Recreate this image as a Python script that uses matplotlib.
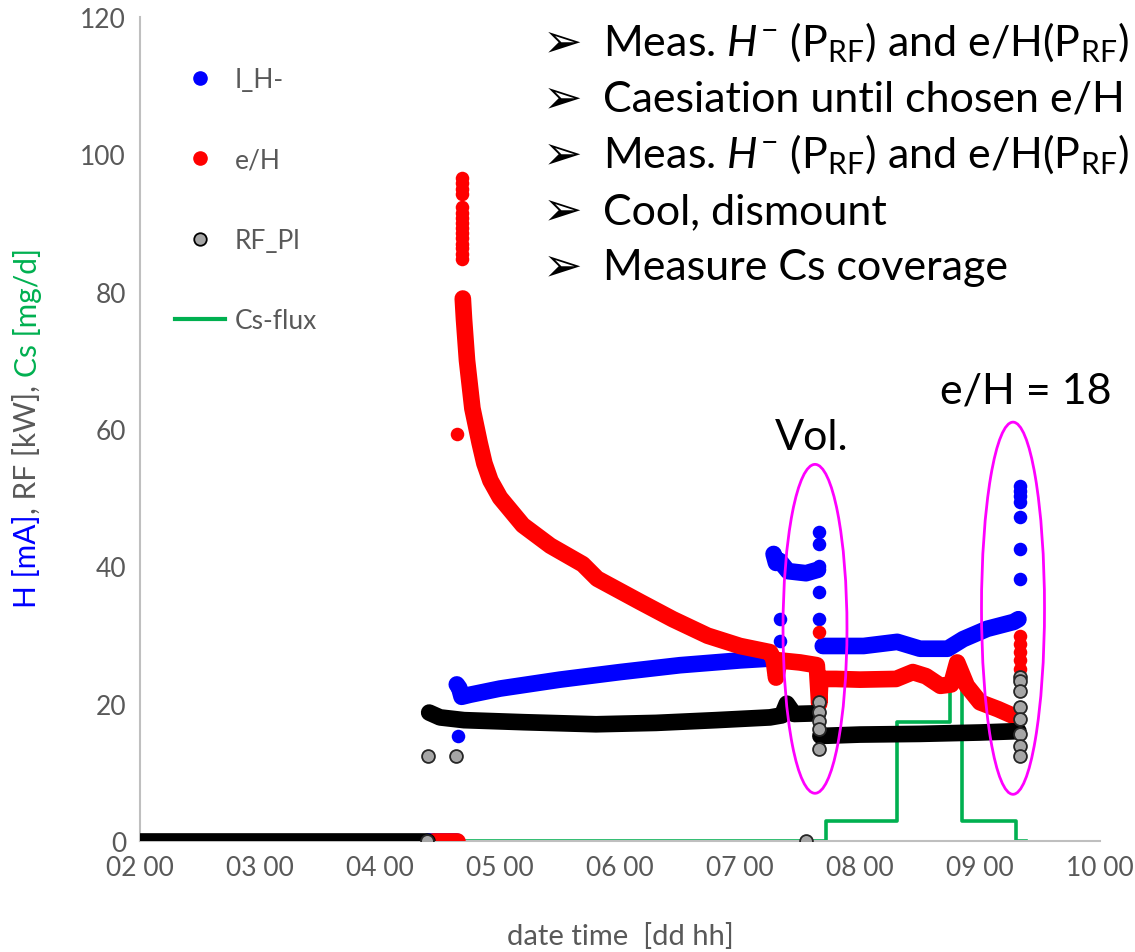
import matplotlib
matplotlib.use('Agg')
import matplotlib.pyplot as plt
from matplotlib.patches import Ellipse
from matplotlib.lines import Line2D

plt.rcParams['font.family'] = ['Lato', 'DejaVu Sans']
plt.rcParams['mathtext.fontset'] = 'custom'
plt.rcParams['mathtext.rm'] = 'Lato'
plt.rcParams['mathtext.it'] = 'Lato:italic'
plt.rcParams['mathtext.bf'] = 'Lato:bold'

# time axis in days (02 00 .. 10 00)
x_ticks = [2, 3, 4, 5, 6, 7, 8, 9, 10]
x_labels = ['02 00', '03 00', '04 00', '05 00', '06 00', '07 00', '08 00', '09 00', '10 00']
y_ticks = [0, 20, 40, 60, 80, 100, 120]

# RF_Pl (dense track + single points)
rf_zero_t = [2.0, 4.39]
rf_zero_v = [0, 0]
rf_t = [4.41, 4.50, 4.70, 5.20, 5.80, 6.30, 6.80, 7.25, 7.35, 7.39, 7.45, 7.65]
rf_v = [18.7, 18.0, 17.6, 17.3, 17.0, 17.2, 17.6, 18.0, 18.3, 20.0, 18.5, 18.6]
rf2_t = [7.67, 8.00, 8.50, 9.00, 9.32]
rf2_v = [15.3, 15.5, 15.6, 15.8, 16.0]
rf_pt_t = [4.39, 4.40, 4.63, 7.55, 7.66, 7.66, 7.66, 7.66, 7.66,
           9.33, 9.33, 9.33, 9.33, 9.33, 9.33, 9.33, 9.33]
rf_pt_v = [0, 12.4, 12.4, 0, 20.2, 18.8, 17.5, 16.3, 13.4,
           23.9, 23.3, 21.8, 19.5, 17.8, 15.6, 13.8, 12.4]

# I_H-
ih_zero_t = [4.40, 4.63]
ih_zero_v = [0, 0]
ih_t = [4.64, 4.66, 4.68, 4.75, 5.00, 5.50, 6.00, 6.50, 7.00, 7.28]
ih_v = [22.8, 22.3, 21.0, 21.3, 22.2, 23.5, 24.6, 25.6, 26.3, 26.6]
ih2_t = [7.28, 7.30, 7.33, 7.40, 7.55, 7.65]
ih2_v = [41.8, 40.5, 40.8, 39.3, 39.0, 39.5]
ih3_t = [7.69, 8.03, 8.31, 8.50, 8.73, 8.86, 9.06, 9.28, 9.32]
ih3_v = [28.4, 28.4, 29.0, 28.0, 28.0, 29.4, 30.9, 31.9, 32.3]
ih_pt_t = [4.65, 7.33, 7.33, 7.66, 7.66, 7.66, 7.66, 7.66,
           9.33, 9.33, 9.33, 9.33, 9.33, 9.33, 9.33]
ih_pt_v = [15.3, 32.3, 29.1, 45.0, 43.2, 40.0, 36.2, 32.3,
           51.7, 51.0, 50.2, 49.3, 47.2, 42.5, 38.2]

# e/H
eh_zero_t = [4.44, 4.64]
eh_zero_v = [0, 0]
eh_t = [4.69, 4.70, 4.725, 4.77, 4.83, 4.87, 4.92, 5.00, 5.19, 5.42, 5.62, 5.69,
        5.81, 6.17, 6.44, 6.73, 7.00, 7.25, 7.28, 7.30, 7.33, 7.50, 7.64, 7.66,
        7.67, 7.80, 8.00, 8.30, 8.44, 8.55, 8.67, 8.76, 8.81, 8.89, 9.00,
        9.15, 9.28]
eh_v = [79.0, 76.0, 70.0, 63.0, 58.0, 55.0, 52.5, 50.0, 46.0, 43.0, 41.0, 40.3,
        38.2, 34.8, 32.3, 29.9, 28.4, 27.5, 26.5, 23.8, 26.3, 26.0, 25.6, 20.0,
        23.6, 23.6, 23.5, 23.6, 24.6, 24.0, 22.6, 22.8, 26.0, 22.6, 20.2,
        19.2, 18.2]
eh_pt_t = [4.64, 4.68, 4.68, 4.68, 4.68, 4.68, 4.68, 4.68, 4.68, 4.68,
           4.68, 4.68, 4.68, 4.68, 4.68, 4.68,
           7.66, 9.33, 9.33, 9.33, 9.33, 9.33]
eh_pt_v = [59.2, 96.5, 95.8, 95.0, 94.2, 92.3, 91.5, 90.8, 90.0, 89.3,
           88.5, 87.8, 87.0, 86.3, 85.5, 84.8,
           30.4, 29.9, 28.7, 27.5, 26.3, 25.0]

# Cs-flux (step line)
cs_t = [4.45, 7.72, 8.31, 8.75, 8.85, 9.30, 9.38]
cs_v = [0, 2.9, 17.3, 24.0, 2.9, 0, 0]

bullets = [r'Meas. $\mathit{H}^{-}$ (P$_{\mathrm{RF}}$) and e/H(P$_{\mathrm{RF}}$)',
           'Caesiation until chosen e/H',
           r'Meas. $\mathit{H}^{-}$ (P$_{\mathrm{RF}}$) and e/H(P$_{\mathrm{RF}}$)',
           'Cool, dismount',
           'Measure Cs coverage']

W, H = 1135, 953
BLUE, RED, GREEN, GREY = '#0000FF', '#FF0000', '#00B050', '#595959'
fig = plt.figure(figsize=(W / 100, H / 100), dpi=100)
ax = fig.add_axes([140 / W, 1 - 842 / H, 960 / W, 824 / H])

lw = 12
ms = 95
track = dict(solid_capstyle='round', solid_joinstyle='round', lw=lw)

ax.step(cs_t, cs_v, where='post', color=GREEN, lw=2.6, zorder=2)

ax.plot(ih_zero_t, ih_zero_v, color=BLUE, zorder=3, **track)
ax.plot(ih_t, ih_v, color=BLUE, zorder=3, **track)
ax.plot(ih2_t, ih2_v, color=BLUE, zorder=3, **track)
ax.plot(ih3_t, ih3_v, color=BLUE, zorder=3, **track)
ax.scatter(ih_pt_t, ih_pt_v, s=ms, color=BLUE, lw=0, zorder=3)

ax.plot(eh_zero_t, eh_zero_v, color=RED, zorder=4, **track)
ax.plot(eh_t, eh_v, color=RED, zorder=4, **track)
ax.scatter(eh_pt_t, eh_pt_v, s=ms, color=RED, lw=0, zorder=4)

ax.plot(rf_zero_t, rf_zero_v, color='black', zorder=5, **track)
ax.plot(rf_t, rf_v, color='black', zorder=5, **track)
ax.plot(rf2_t, rf2_v, color='black', zorder=5, **track)
ax.scatter(rf_pt_t, rf_pt_v, s=ms * 0.9, facecolor='#A6A6A6', edgecolor='#262626',
           lw=1.3, zorder=6)

ax.add_patch(Ellipse((7.625, 30.9), 0.533, 47.9, fill=False, ec='#FF00FF', lw=2, zorder=7))
ax.add_patch(Ellipse((9.275, 33.9), 0.525, 54.2, fill=False, ec='#FF00FF', lw=2, zorder=7))

ax.set_xlim(2, 10)
ax.set_ylim(0, 120)
ax.set_xticks(x_ticks, x_labels)
ax.set_yticks(y_ticks)
ax.tick_params(length=0, labelsize=19, labelcolor=GREY, pad=10)
for s in ['top', 'right']:
    ax.spines[s].set_visible(False)
for s in ['left', 'bottom']:
    ax.spines[s].set_color('#BFBFBF')
    ax.spines[s].set_linewidth(1.5)

ax.set_xlabel('date time  [dd hh]', fontsize=21, color=GREY, labelpad=30)

handles = [Line2D([], [], ls='none', marker='o', color=BLUE, markersize=9.5),
           Line2D([], [], ls='none', marker='o', color=RED, markersize=9.5),
           Line2D([], [], ls='none', marker='o', markerfacecolor='#A6A6A6',
                  markeredgecolor='black', markeredgewidth=1.3, markersize=9),
           Line2D([], [], color=GREEN, lw=3)]
ax.legend(handles, ['I_H-', 'e/H', 'RF_Pl', 'Cs-flux'], loc='upper left',
          bbox_to_anchor=(175 / W, 1 - 68 / H), bbox_transform=fig.transFigure,
          frameon=False, fontsize=19, labelcolor=GREY, labelspacing=2.1,
          handlelength=1.9, handletextpad=0.35, borderpad=0, borderaxespad=0)

# multi-coloured y label, stacked bottom to top
r = fig.canvas.get_renderer()
parts = [('H [mA]', BLUE), (', RF [kW], ', GREY), ('Cs [mg/d]', GREEN)]
texts = [fig.text(0, 0, p, color=c, fontsize=21.5, rotation=90,
                  rotation_mode='anchor', ha='left', va='center') for p, c in parts]
lens = [t.get_window_extent(r).height for t in texts]
y = (H - 428) - sum(lens) / 2
for t, l in zip(texts, lens):
    t.set_position((27 / W, y / H))
    y += l

# annotation text
for i, line in enumerate(bullets):
    yb = 1 - (56 + 56 * i) / H
    fig.text(543 / W, yb, '\u27a2', fontsize=34, family='DejaVu Sans', va='baseline')
    fig.text(603 / W, yb, line, fontsize=31, va='baseline')
fig.text(940 / W, 1 - 403 / H, 'e/H = 18', fontsize=31, va='baseline')
fig.text(775 / W, 1 - 450 / H, 'Vol.', fontsize=31, va='baseline')

fig.savefig('out.png', dpi=100)
